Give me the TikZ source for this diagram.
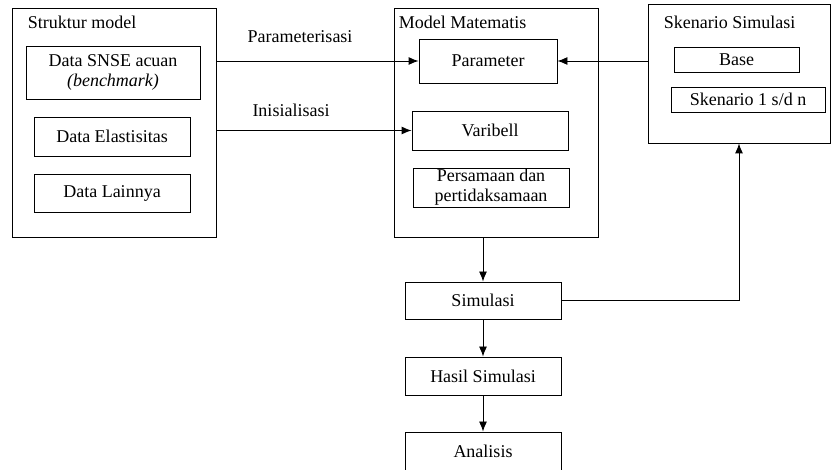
\documentclass[tikz,border=0pt]{standalone}
\usepackage{fontspec}
\setmainfont{Liberation Serif}
\usepackage{tikz}
\usetikzlibrary{arrows.meta}

\begin{document}
\begin{tikzpicture}[x=1pt,y=-1pt,line width=0.9pt,>={Latex[length=10pt,width=8pt]},
  font=\fontsize{18}{20}\selectfont,
  box/.style={rectangle,draw,inner sep=0pt,align=center}]
\path[use as bounding box,clip] (0,0) rectangle (831,470);

% Struktur model
\node (SM)[box,minimum width=204,minimum height=229] at (114,122.5) {};
\node[anchor=west] at (24,22) {Struktur model};
\node (SM1)[box,minimum width=174,minimum height=53] at (113,72.5) {Data SNSE acuan\\\textit{(benchmark)}};
\node (SM2)[box,minimum width=156,minimum height=39] at (112,136.5) {Data Elastisitas};
\node (SM3)[box,minimum width=156,minimum height=38] at (112,193) {Data Lainnya};

% Model Matematis
\node (MM)[box,minimum width=204,minimum height=229] at (496,122.5) {};
\node[anchor=west] at (395,22) {Model Matematis};
\node (MM1)[box,minimum width=138,minimum height=44] at (488,61) {Parameter};
\node (MM2)[box,minimum width=156,minimum height=39] at (490,130.5) {Varibell};
\node (MM3)[box,minimum width=156,minimum height=39] at (491,187.5) {Persamaan dan\\pertidaksamaan};

% Skenario Simulasi
\node (SS)[box,minimum width=182,minimum height=139] at (739,73.5) {};
\node[anchor=west] at (660,22) {Skenario Simulasi};
\node (SS1)[box,minimum width=125,minimum height=25] at (736.5,59.5) {Base};
\node (SS2)[box,minimum width=154,minimum height=25] at (748,99.5) {Skenario 1 s/d n};

\node (S1)[box,minimum width=156,minimum height=37] at (483,300.5) {Simulasi};
\node (S2)[box,minimum width=156,minimum height=38] at (483,376) {Hasil Simulasi};
\node (S3)[box,minimum width=156,minimum height=38] at (483,451) {Analisis};

\draw[->] (SM.east |- MM1.west) -- (MM1.west);
\node (P) at (300,37) {Parameterisasi};
\draw[->] (SM.east |- MM2.west) -- (MM2.west);
\node (I) at (291,110) {Inisialisasi};
\draw[->] (SS.west |- MM1.east) -- (MM1.east);

\draw[->] (MM.south -| S1.north) -- (S1.north);
\draw[->] (S1) -- (S2);
\draw[->] (S2) -- (S3);
\draw[->] (S1.east) -| (SS.south);
\end{tikzpicture}
\end{document}
